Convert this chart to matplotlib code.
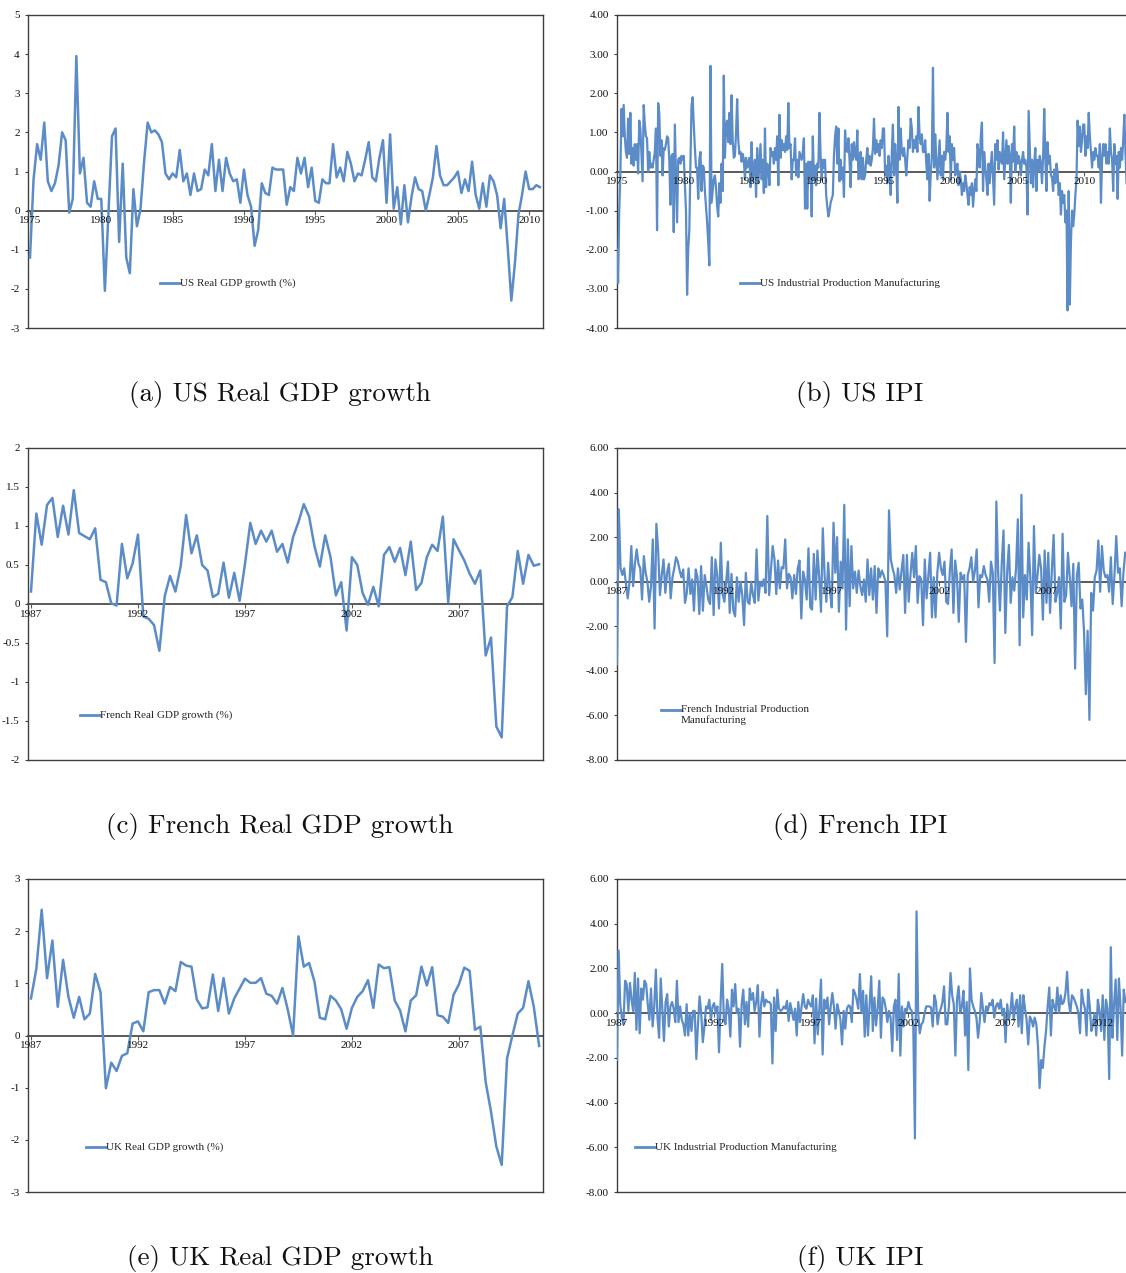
import numpy as np
import matplotlib
matplotlib.use("Agg")
import matplotlib.pyplot as plt
from matplotlib.lines import Line2D

# ---------------------------------------------------------------
# Data
# ---------------------------------------------------------------
# quarterly real GDP growth (%), US from 1975Q1, France/UK from 1987Q1
us_gdp = [
    -1.2, 0.8, 1.7, 1.3,  2.25, 0.75, 0.5, 0.7,  1.15, 2.0, 1.8, -0.05,
    0.3, 3.95, 0.95, 1.35,  0.2, 0.1, 0.75, 0.3,  0.3, -2.05, -0.1, 1.9,
    2.1, -0.8, 1.2, -1.2,  -1.6, 0.55, -0.4, 0.05,  1.25, 2.25, 2.0, 2.05,
    1.95, 1.75, 0.95, 0.8,  0.95, 0.85, 1.55, 0.75,  0.95, 0.4, 0.95, 0.5,
    0.55, 1.05, 0.9, 1.7,  0.5, 1.3, 0.5, 1.35,  0.95, 0.75, 0.8, 0.2,
    1.05, 0.4, 0.1, -0.9,  -0.5, 0.7, 0.45, 0.4,  1.1, 1.05, 1.05, 1.05,
    0.15, 0.6, 0.5, 1.35,  0.95, 1.35, 0.6, 1.1,  0.25, 0.2, 0.8, 0.7,
    0.7, 1.7, 0.85, 1.1,  0.75, 1.5, 1.2, 0.75,  0.95, 0.9, 1.3, 1.75,
    0.85, 0.75, 1.35, 1.8,  0.2, 1.95, 0.05, 0.6,  -0.35, 0.65, -0.3, 0.35,
    0.85, 0.55, 0.5, 0.0,  0.4, 0.85, 1.65, 0.9,  0.65, 0.65, 0.75, 0.85,
    1.0, 0.45, 0.8, 0.5,  1.25, 0.4, 0.05, 0.7,  0.1, 0.9, 0.75, 0.4,
    -0.45, 0.3, -0.95, -2.3,  -1.35, -0.1, 0.4, 1.0,  0.55, 0.55, 0.65, 0.6,
]
fr_gdp = [
    0.16, 1.16, 0.76, 1.27,  1.36, 0.86, 1.26, 0.89,  1.46, 0.91, 0.87, 0.83,
    0.97, 0.31, 0.28, 0.01,  -0.02, 0.77, 0.33, 0.52,  0.89, -0.16, -0.19, -0.27,
    -0.6, 0.1, 0.36, 0.16,  0.49, 1.14, 0.65, 0.88,  0.5, 0.43, 0.09, 0.13,
    0.53, 0.08, 0.4, 0.04,  0.51, 1.04, 0.77, 0.94,  0.8, 0.94, 0.67, 0.77,
    0.53, 0.86, 1.05, 1.28,  1.12, 0.74, 0.48, 0.88,  0.6, 0.11, 0.28, -0.34,
    0.6, 0.5, 0.14, -0.01,  0.22, -0.03, 0.63, 0.73,  0.54, 0.72, 0.37, 0.8,
    0.18, 0.27, 0.6, 0.76,  0.68, 1.12, 0.02, 0.83,  0.69, 0.56, 0.39, 0.26,
    0.43, -0.66, -0.43, -1.57,  -1.71, -0.03, 0.09, 0.68,  0.26, 0.63, 0.49, 0.51,
]
uk_gdp = [
    0.71, 1.28, 2.41, 1.1,  1.82, 0.55, 1.45, 0.74,  0.34, 0.74, 0.31, 0.42,
    1.18, 0.83, -1.01, -0.52,  -0.68, -0.39, -0.34, 0.23,  0.27, 0.08, 0.83, 0.87,
    0.87, 0.61, 0.93, 0.85,  1.41, 1.34, 1.32, 0.69,  0.52, 0.54, 1.17, 0.47,
    1.1, 0.42, 0.71, 0.9,  1.09, 1.01, 1.01, 1.1,  0.8, 0.76, 0.61, 0.91,
    0.5, 0.0, 1.9, 1.32,  1.39, 1.03, 0.34, 0.31,  0.76, 0.67, 0.5, 0.13,
    0.53, 0.74, 0.85, 1.06,  0.53, 1.36, 1.29, 1.31,  0.67, 0.48, 0.08, 0.67,
    0.77, 1.32, 0.96, 1.31,  0.39, 0.36, 0.24, 0.78,  0.98, 1.3, 1.24, 0.11,
    0.17, -0.89, -1.46, -2.13,  -2.48, -0.44, 0.0, 0.42,  0.53, 1.04, 0.55, -0.2,
]

# monthly manufacturing industrial production growth (%)
us_ipi = [  # from 1975-01
    -2.0, -2.85, -1.0, -0.1, 1.6, 0.9, 1.7, 0.9, 0.5, 0.35, 1.35, 0.45,      # 1975
    1.5, 0.2, 0.6, 0.15, 0.7, 0.3, 0.7, -0.05, 1.3, 1.1, 0.4, -0.25,         # 1976
    1.7, 1.2, 0.9, 0.85, 0.0, 0.5, 0.1, 0.2, 0.1, 0.3, 0.5, 1.1,             # 1977
    -1.5, 1.75, 1.5, 0.4, 0.8, -0.1, 0.6, 0.55, 0.7, 0.9, 0.85, 0.3,         # 1978
    -0.85, 0.4, 0.45, -1.55, 1.2, -0.1, -1.3, 0.3, 0.35, 0.2, 0.4, 0.3,      # 1979
    0.4, -0.3, -1.0, -3.15, -2.0, -1.5, 0.2, 1.7, 1.9, 1.2, 0.6, 0.1,        # 1980
    0.1, -0.7, 0.3, 0.5, -0.5, 0.15, 0.1, -0.5, -0.9, -1.3, -1.8, -2.4,      # 1981
    2.7, -0.8, -0.5, -0.2, -0.1, -0.4, -0.9, -1.15, -0.3, -0.8, 0.2, -0.5,   # 1982
    2.45, 0.35, 1.15, 1.3, 0.75, 1.5, 0.7, 1.95, 0.8, 0.35, 0.4, 1.0,        # 1983
    1.85, 0.8, 0.45, 0.5, 0.25, 0.45, 0.3, -0.2, 0.35, 0.1, 0.2, 0.35,       # 1984
    -0.4, 0.75, -0.25, 0.1, 0.3, -0.65, 0.6, -0.3, 0.2, 0.7, -0.2, 0.3,      # 1985
    -0.55, 1.1, -0.4, 0.2, 0.1, -0.35, 0.6, 0.4, 0.5, 0.2, 0.6, 0.3,         # 1986
    0.9, -0.35, 1.45, 0.35, 0.8, 0.55, 0.7, 0.5, 0.9, 0.55, 1.75, 0.6,       # 1987
    0.7, -0.2, 0.3, 0.3, 0.85, -0.1, 0.3, -0.15, 0.5, 0.4, 0.3, 0.5,         # 1988
    0.85, -0.95, 0.2, -0.95, 0.25, -0.15, 0.25, -1.15, 0.9, -0.2, 0.15, -0.35,  # 1989
    0.2, 0.1, 1.5, 0.4, -0.2, 0.3, 0.1, 0.3, -0.6, -0.9, -1.15, -1.0,        # 1990
    -0.8, -0.7, -0.6, 0.4, 0.9, 1.15, 0.2, 1.1, -0.25, 0.3, -0.2, 0.1,       # 1991
    -0.65, 1.05, 0.55, 0.5, 0.85, 0.3, -0.4, 0.7, 0.3, 0.75, 0.4, 0.3,       # 1992
    1.05, -0.2, -0.15, 0.5, -0.2, 0.35, -0.2, -0.1, 0.3, 0.6, 0.2, 0.4,      # 1993
    0.15, 0.3, 0.6, 1.35, 0.45, 0.8, 0.5, 0.7, 0.4, 0.8, 0.6, 1.1,           # 1994
    1.1, -0.1, 0.15, -0.3, 0.4, 0.1, -0.6, 0.5, 1.2, -0.1, 0.7, 0.2,         # 1995
    -0.8, 1.65, 0.3, 1.1, 0.5, 0.4, 0.6, 0.3, -0.1, 0.4, 0.8, 0.6,           # 1996
    1.35, 1.1, 0.5, 0.8, 0.6, 0.9, 0.5, 1.65, 0.9, 0.7, 0.95, 0.5,           # 1997
    0.5, 0.8, 0.2, -0.2, 0.45, -0.75, -0.05, 0.4, 2.65, 0.1, 0.95, 0.3,      # 1998
    -0.2, 0.3, 0.8, -0.1, 0.4, -0.2, 0.5, 0.3, 0.6, 1.5, 0.5, 0.9,           # 1999
    -0.2, 0.7, 0.3, 0.6, -0.1, 0.1, 0.2, -0.35, 0.0, -0.2, -0.6, -0.3,       # 2000
    -0.5, -0.1, -0.3, -0.6, -0.85, -0.4, -0.6, -0.3, -0.9, -0.5, -0.2, -0.5,  # 2001
    0.7, 0.45, 0.1, 0.9, 1.25, -0.5, 0.5, 0.1, -0.2, -0.6, 0.2, -0.3,        # 2002
    0.2, 0.5, -0.2, -0.85, 0.7, 0.3, 0.8, 0.05, 0.5, 0.3, 0.2, 1.0,          # 2003
    -0.2, 0.3, 0.8, 0.2, 0.65, 0.4, -0.8, 0.7, 0.25, 1.15, 0.0, 0.5,         # 2004
    0.2, 0.4, 0.25, -0.1, 0.3, 0.5, 0.2, 0.3, 0.1, -1.1, 1.55, 0.6,          # 2005
    -0.3, 0.3, -0.4, 0.2, 0.6, -0.5, 0.3, 0.0, 0.4, 0.2, -0.3, 0.4,          # 2006
    1.6, 0.3, -0.5, 0.75, 0.2, 0.4, -0.1, -0.15, -0.5, 0.05, -0.3, 0.2,      # 2007
    0.0, -0.6, -0.3, -1.1, -0.5, -0.8, -0.6, -1.3, -1.0, -3.55, -0.5, -3.4,  # 2008
    -1.8, -1.0, -1.4, -1.1, -0.6, -0.2, 1.3, 0.65, 1.15, 0.5, 0.8, 1.2,      # 2009
    1.2, 0.4, 0.9, 0.6, 1.5, 0.9, 0.5, 0.1, 0.5, 0.3, 0.6, 0.4,              # 2010
    0.4, 0.1, 0.7, -0.8, 0.3, 0.7, 0.4, 0.7, 0.2, 0.5, 0.2, 1.1,             # 2011
    0.5, 0.3, -0.5, 0.7, 0.2, 0.4, -0.7, 0.5, 0.1, 0.6, 0.3, 0.8,            # 2012
    1.45, 0.5, -0.3,                                                         # 2013
]
fr_ipi = [  # from 1987-01
    -3.7, 3.25, 0.6, 0.3, 0.6, -0.1, -0.75, 0.0, 1.6, -0.2, 0.8, 1.45,       # 1987
    0.8, 0.6, -0.8, 1.15, 0.4, 0.0, -0.9, -0.2, 1.9, -2.1, 2.6, 1.4,         # 1988
    -0.6, 0.3, 1.0, -0.5, 0.4, 0.8, -0.75, 0.2, 0.6, 1.1, 0.9, 0.5,          # 1989
    0.2, 0.55, -0.95, -0.5, 0.6, -0.55, 0.1, -1.3, 0.55, 0.2, -1.45, 0.7,    # 1990
    -1.3, 0.3, -0.2, -0.8, -1.0, 1.1, -1.5, 1.0, 0.3, -1.2, 1.75, -0.55,     # 1991
    -0.9, 0.0, 0.9, -1.4, 0.35, -1.3, -1.55, 0.2, -0.9, 0.0, -0.6, -1.95,    # 1992
    0.4, -0.9, -1.0, 0.0, -0.6, -0.95, 1.45, -0.85, 0.0, -0.2, 0.1, -0.5,    # 1993
    2.95, -0.6, 0.5, 1.6, 1.0, -0.55, 0.95, -0.3, 0.65, 0.6, 1.9, -0.3,      # 1994
    0.35, 0.2, -0.75, 0.3, -0.55, 0.6, 0.95, -1.65, 0.45, 0.1, -0.8, 1.5,    # 1995
    -1.15, -1.25, 1.25, -0.8, 1.4, 0.2, -1.35, 2.4, 0.3, -0.9, 0.85, -0.4,   # 1996
    -1.15, 2.65, 0.4, 2.0, -1.35, 0.9, -0.3, 3.45, -2.15, 1.9, -1.1, 1.6,    # 1997
    -0.3, 0.45, -0.5, 0.5, -0.2, -0.6, 0.1, -0.9, 1.0, -0.6, 0.6, -0.8,      # 1998
    0.7, -1.4, 0.6, 0.2, 0.5, 0.3, 0.0, -2.45, 3.2, 1.0, 0.6, 0.3,           # 1999
    -0.5, 0.6, -0.35, 0.5, 1.2, -1.4, 1.2, -0.9, 0.3, 1.3, 0.2, 1.6,         # 2000
    -0.95, 0.25, 0.1, -1.95, 1.0, -0.75, 0.3, 1.3, -1.6, 0.2, -1.6, 0.4,     # 2001
    1.3, 0.6, 0.3, 0.9, -0.9, -1.0, 0.5, 1.45, -1.4, 0.95, 0.2, -1.8,        # 2002
    0.4, 0.1, 0.3, -2.7, 0.3, 0.6, 1.1, 0.0, 0.5, 1.45, -1.15, 0.3,          # 2003
    0.2, 0.7, 0.3, 0.1, -0.9, 0.9, 0.4, -3.65, 3.6, 0.4, -1.3, 0.8,          # 2004
    2.3, -2.3, 0.4, 1.65, -0.95, 0.2, -0.4, 0.6, 2.8, -2.85, 3.9, -1.6,      # 2005
    0.3, -0.8, 1.75, 0.2, -2.4, 2.5, -0.5, 0.3, 1.2, 0.6, -1.7, 1.4,         # 2006
    -0.95, 1.3, -1.4, 0.5, 2.1, -0.9, -0.5, 0.2, -2.1, 2.15, -0.9, -0.6,     # 2007
    1.3, 0.2, -1.1, 0.8, -3.9, 0.3, 0.85, -1.2, -0.8, -2.25, -5.05, -2.2,    # 2008
    -6.2, -0.5, -1.3, 0.2, 0.5, 1.85, -0.45, 1.6, 0.5, 0.2, 0.3, -0.45,      # 2009
    1.1, -1.0, 0.3, 2.05, 0.4, 0.6, -1.1, 0.4, 1.3,                          # 2010
]
uk_ipi = [  # from 1987-01
    -2.1, 2.8, 0.4, -0.2, -0.5, 1.45, 1.3, 0.1, 1.35, 0.6, 0.1, 1.8,         # 1987
    -0.75, 1.55, -0.9, 1.1, 0.6, 1.45, 1.3, 0.4, -0.3, 1.1, -0.6, 0.3,       # 1988
    1.95, -0.2, -1.1, 1.55, 0.2, -1.25, 0.5, 0.85, -0.6, 0.3, 0.5, 0.2,      # 1989
    -0.4, 1.45, -0.4, 0.3, -0.3, -0.5, -1.0, 0.4, -1.0, 0.0, -0.8, 0.1,      # 1990
    0.1, -2.05, -0.5, 0.75, 0.0, -1.3, -0.6, 0.3, 0.2, 0.6, -0.3, 0.3,       # 1991
    0.45, 0.0, 0.3, -1.75, 0.5, 2.2, -0.3, -0.5, 0.6, 0.2, -1.05, 1.05,      # 1992
    0.3, 1.3, 0.0, 0.2, -1.5, 0.4, 1.05, -0.5, 0.5, -0.6, 1.1, 0.6,          # 1993
    0.9, 0.1, 0.5, 1.25, -1.05, 0.4, 0.95, 0.3, 0.6, 0.5, 0.5, 0.4,          # 1994
    -2.25, 0.7, -0.8, 1.05, 0.2, 0.1, 0.15, 0.3, 0.2, 0.55, -0.35, 0.45,     # 1995
    0.1, -0.3, 0.2, -1.0, 0.5, -0.4, 0.3, 0.85, 0.3, 0.2, 0.6, 0.4,          # 1996
    0.3, 0.8, -1.35, 0.65, -0.95, 0.2, 1.5, -1.85, 0.6, 0.2, 0.7, -0.5,      # 1997
    0.3, 0.9, 0.3, -0.7, 0.4, 0.1, -0.3, -1.4, 0.1, -0.7, 0.2, 0.35,         # 1998
    0.3, -0.4, 1.05, 0.9, 0.6, 0.2, 1.75, 0.0, 1.0, -1.05, 0.8, -1.0,        # 1999
    0.3, 1.65, -0.8, 0.7, -0.55, 0.2, 1.45, -1.1, 0.7, 0.6, 0.2, -0.4,       # 2000
    0.1, -0.2, -1.7, 0.3, 0.6, -1.2, 1.75, -1.9, 0.3, -0.6, 0.2, 0.1,        # 2001
    0.5, 0.2, 0.1, -0.6, -5.6, 4.55, 0.0, -0.9, -0.5, -0.4, 0.0, 0.3,        # 2002
    0.3, 0.3, 0.25, -0.6, 0.8, 0.5, -0.5, 0.0, 0.2, 0.5, 1.2, -0.5,          # 2003
    -0.5, 0.3, 1.8, 0.8, 0.4, -1.9, 0.6, 1.2, 0.0, 0.3, 1.0, -1.0,           # 2004
    0.5, -2.55, 2.0, 0.6, 0.3, 0.1, -0.2, -1.1, -0.4, 0.9, 0.2, -0.4,        # 2005
    0.3, 0.1, 0.45, 0.35, 0.6, -0.2, 0.3, 0.45, 0.2, 0.6, -0.1, 0.2,         # 2006
    -1.3, 0.4, -0.3, 0.1, 0.9, -0.3, 0.3, 0.6, -0.6, 0.8, -0.9, 0.8,         # 2007
    0.2, -0.3, -1.4, -0.15, -0.3, -0.6, -0.2, -0.5, -1.45, -3.35, -2.1, -2.45,  # 2008
    -1.5, -0.8, 0.3, 1.15, -1.0, 0.6, 0.3, 0.1, 1.15, 0.0, 0.8, 0.4,         # 2009
    0.5, 0.9, 1.85, 0.5, 0.0, 0.8, 0.7, 0.5, 0.3, 0.0, -0.9, 1.05,           # 2010
    0.5, 0.2, -1.0, 1.05, 0.3, -0.8, -0.5, 0.0, -1.0, 0.6, 0.1, -0.8,        # 2011
    0.8, -1.2, 0.6, 0.2, -2.95, 2.95, -1.1, 0.4, 1.5, -1.2, 1.55, 0.3,       # 2012
    -1.9, 1.05, 0.5,                                                         # 2013
]

gdp_ticks_us = [1975, 1980, 1985, 1990, 1995, 2000, 2005, 2010]
gdp_ticks_eu = [1987, 1992, 1997, 2002, 2007]
ipi_ticks_fr = [1987, 1992, 1997, 2002, 2007]
ipi_ticks_uk = [1987, 1992, 1997, 2002, 2007, 2012]

# ---------------------------------------------------------------
# Figure
# ---------------------------------------------------------------
W, H = 1126, 1273
DPI = 100
BLUE = "#5b8cc8"
FRAME = "#3f3f3f"
ZERO = "#5a5a5a"
SERIF = "Liberation Serif"

fig = plt.figure(figsize=(W / DPI, H / DPI), dpi=DPI)
fig.patch.set_facecolor("white")


def px_axes(left, top, right, bottom):
    return fig.add_axes([left / W, 1 - bottom / H, (right - left) / W, (bottom - top) / H])


def draw(ax, x, y, lw, xlim, ylim, yticks, ylabels, xticks, legend, leg_xy,
         right_frame=True):
    ax.plot(x, y, color=BLUE, lw=lw, zorder=3, solid_joinstyle="round")
    ax.set_xlim(*xlim)
    ax.set_ylim(*ylim)

    # category axis sits on the zero line, frame drawn separately
    ax.spines["bottom"].set_position(("data", 0))
    ax.spines["bottom"].set_color(ZERO)
    ax.spines["bottom"].set_linewidth(1.4)
    ax.spines["bottom"].set_zorder(2)
    for s in ("left", "top", "right"):
        ax.spines[s].set_color(FRAME)
        ax.spines[s].set_linewidth(1.0)
    if not right_frame:
        ax.spines["right"].set_visible(False)
    ax.add_line(Line2D([0, 1], [0, 0], transform=ax.transAxes, color=FRAME,
                       lw=1.0, clip_on=False))

    ax.set_xticks(xticks)
    ax.set_xticklabels([str(t) for t in xticks])
    ax.set_yticks(yticks)
    ax.set_yticklabels(ylabels)
    ax.tick_params(axis="x", direction="out", length=3, width=0.8, color=ZERO,
                   pad=1, labelsize=8, labelcolor="#111111")
    ax.tick_params(axis="y", direction="out", length=2.5, width=0.8, color=FRAME,
                   pad=3.5, labelsize=8, labelcolor="#111111")
    for lab in ax.get_xticklabels() + ax.get_yticklabels():
        lab.set_fontfamily(SERIF)
    # year labels are printed over the series, as in the source chart
    ax.xaxis.set_zorder(4)

    # legend: short line + label, no box
    lx, ly, width_px = leg_xy
    hl = 20 / width_px
    ax.add_line(Line2D([lx, lx + hl], [ly, ly], transform=ax.transAxes,
                       color=BLUE, lw=2.0, clip_on=False))
    if "\n" in legend:
        ax.text(lx + hl, ly + 0.017, legend, transform=ax.transAxes, ha="left",
                va="top", fontsize=8, family=SERIF, color="#262626",
                linespacing=1.25)
    else:
        ax.text(lx + hl, ly, legend, transform=ax.transAxes, ha="left",
                va="center", fontsize=8, family=SERIF, color="#262626")


x_us_q = 1975 + np.arange(len(us_gdp)) / 4
x_fr_q = 1987 + np.arange(len(fr_gdp)) / 4
x_uk_q = 1987 + np.arange(len(uk_gdp)) / 4
x_us_m = 1975 + np.arange(len(us_ipi)) / 12
x_fr_m = 1987 + np.arange(len(fr_ipi)) / 12
x_uk_m = 1987 + np.arange(len(uk_ipi)) / 12

# (a) US GDP
ax = px_axes(28, 15, 543, 328)
draw(ax, x_us_q, us_gdp, 1.8, (1974.86, 2010.97), (-3, 5),
     list(range(-3, 6)), [str(v) for v in range(-3, 6)], gdp_ticks_us,
     "US Real GDP growth (%)", (0.256, 0.144, 515))

# (b) US IPI
ax = px_axes(617, 15, 1127, 328)
draw(ax, x_us_m, us_ipi, 1.6, (1975.0, 2013.2), (-4, 4),
     list(range(-4, 5)), [f"{v:.2f}" for v in range(-4, 5)], gdp_ticks_us,
     "US Industrial Production Manufacturing", (0.242, 0.144, 509),
     right_frame=False)

# (c) French GDP
ax = px_axes(28, 448, 543, 760)
fr_yt = [-2, -1.5, -1, -0.5, 0, 0.5, 1, 1.5, 2]
draw(ax, x_fr_q, fr_gdp, 1.8, (1986.86, 2010.93), (-2, 2),
     fr_yt, [f"{v:g}" for v in fr_yt], gdp_ticks_eu,
     "French Real GDP growth (%)", (0.101, 0.144, 515))

# (d) French IPI
ax = px_axes(617, 448, 1127, 760)
draw(ax, x_fr_m, fr_ipi, 1.6, (1987.0, 2010.75), (-8, 6),
     list(range(-8, 7, 2)), [f"{v:.2f}" for v in range(-8, 7, 2)], ipi_ticks_fr,
     "French Industrial Production\nManufacturing", (0.086, 0.160, 509),
     right_frame=False)

# (e) UK GDP
ax = px_axes(28, 879, 543, 1192)
draw(ax, x_uk_q, uk_gdp, 1.8, (1986.86, 2010.93), (-3, 3),
     list(range(-3, 4)), [str(v) for v in range(-3, 4)], gdp_ticks_eu,
     "UK Real GDP growth (%)", (0.113, 0.144, 515))

# (f) UK IPI
ax = px_axes(617, 879, 1127, 1192)
draw(ax, x_uk_m, uk_ipi, 1.6, (1987.0, 2013.25), (-8, 6),
     list(range(-8, 7, 2)), [f"{v:.2f}" for v in range(-8, 7, 2)], ipi_ticks_uk,
     "UK Industrial Production Manufacturing", (0.035, 0.144, 509),
     right_frame=False)

# sub-captions
captions = [
    (280, 394, "(a) US Real GDP growth"),
    (860, 394, "(b) US IPI"),
    (280, 826, "(c) French Real GDP growth"),
    (860, 826, "(d) French IPI"),
    (280, 1258, "(e) UK Real GDP growth"),
    (860, 1258, "(f) UK IPI"),
]
for cx, cy, txt in captions:
    fig.text(cx / W, 1 - cy / H, txt, ha="center", va="center",
             fontsize=19.5, family="cmr10", color="#111111")

fig.savefig("out.png", dpi=DPI, facecolor="white")
